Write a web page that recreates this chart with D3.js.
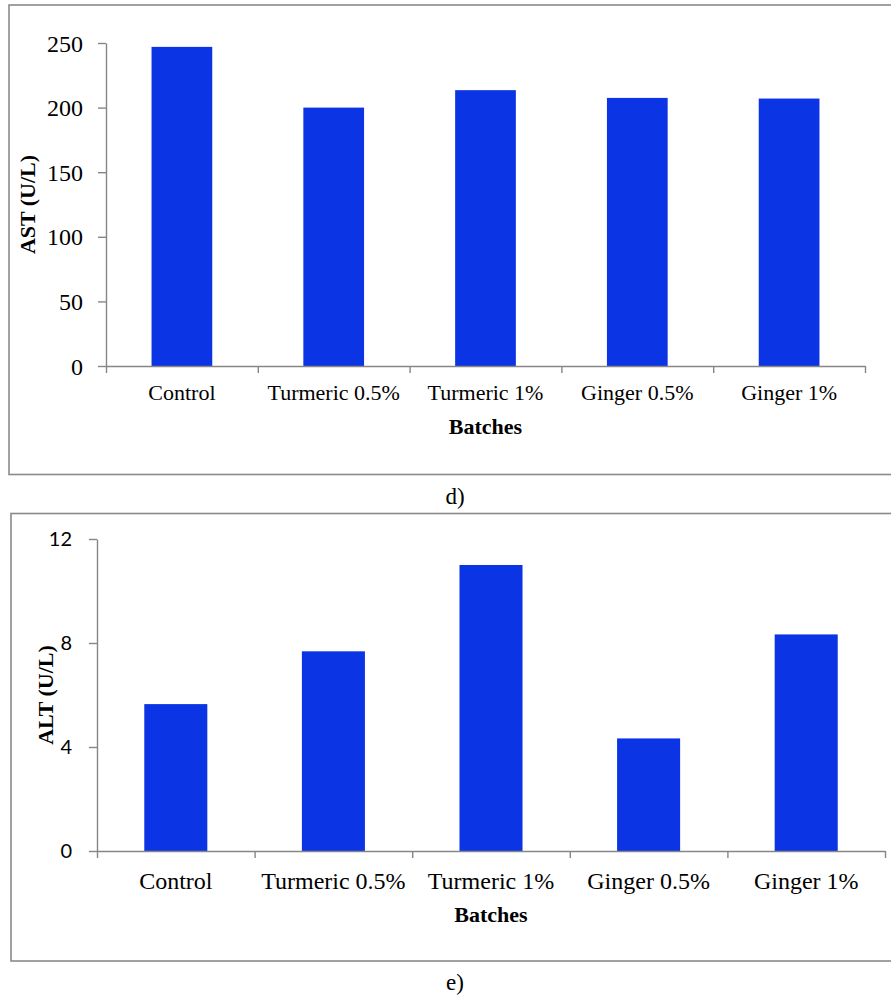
<!DOCTYPE html>
<html>
<head>
<meta charset="utf-8">
<script src="https://cdn.jsdelivr.net/npm/d3@7"></script>
<style>
  html, body { margin: 0; padding: 0; background: #fff; }
  svg { display: block; }
</style>
</head>
<body>
<svg id="chart" width="891" height="995"></svg>
<script>
// Batches shared by both panels
const batches = ["Control", "Turmeric 0.5%", "Turmeric 1%", "Ginger 0.5%", "Ginger 1%"];

// Serum AST (U/L) per batch
const astValues = [247, 200, 213.5, 207.5, 207];
const astTicks = [0, 50, 100, 150, 200, 250];

// Serum ALT (U/L) per batch
const altValues = [5.65, 7.68, 11.0, 4.33, 8.33];
const altTicks = [0, 4, 8, 12];

const barColor = "#0b35e4";
const axisColor = "#868686";
const frameColor = "#8a8a8a";
const serif = "'Liberation Serif', 'Times New Roman', serif";

const svg = d3.select("#chart");

function drawPanel(cfg) {
  const g = svg.append("g");

  // panel frame (runs off the right edge of the page)
  g.append("rect")
    .attr("x", cfg.frame[0]).attr("y", cfg.frame[1])
    .attr("width", 920).attr("height", cfg.frame[2] - cfg.frame[1])
    .attr("fill", "none").attr("stroke", frameColor).attr("stroke-width", 1.6);

  const x = d3.scaleBand()
    .domain(batches)
    .range([cfg.left, cfg.right])
    .paddingInner(0.6)
    .paddingOuter(0.3);

  // category boundaries for the tick marks
  const xEdges = d3.scaleLinear().domain([0, batches.length]).range([cfg.left, cfg.right]);

  const y = d3.scaleLinear().domain(cfg.domain).range([cfg.bottom, cfg.top]);

  // bars
  g.append("g").selectAll("rect")
    .data(cfg.values)
    .join("rect")
    .attr("x", (d, i) => x(batches[i]))
    .attr("y", d => y(d))
    .attr("width", x.bandwidth())
    .attr("height", d => y(0) - y(d))
    .attr("fill", barColor);

  // y axis
  const yAxis = g.append("g")
    .attr("transform", `translate(${cfg.left},0)`)
    .call(d3.axisLeft(y).tickValues(cfg.ticks).tickSize(8).tickSizeOuter(0).tickPadding(cfg.yPad));
  yAxis.select(".domain").attr("stroke", axisColor).attr("stroke-width", 1.4);
  yAxis.selectAll(".tick line").attr("stroke", axisColor).attr("stroke-width", 1.4);
  yAxis.selectAll(".tick text")
    .attr("fill", "#000")
    .style("font-family", cfg.yFont)
    .style("font-size", cfg.yFontSize + "px")
    .attr("dy", "0.34em");

  // x axis line with boundary ticks
  const xAxis = g.append("g")
    .attr("transform", `translate(0,${cfg.bottom})`)
    .call(d3.axisBottom(xEdges).ticks(batches.length).tickSize(7).tickSizeOuter(0).tickFormat(""));
  xAxis.select(".domain").attr("stroke", axisColor).attr("stroke-width", 1.4);
  xAxis.selectAll(".tick line").attr("stroke", axisColor).attr("stroke-width", 1.4);

  // category labels
  const xLabels = g.append("g")
    .attr("transform", `translate(0,${cfg.bottom})`)
    .call(d3.axisBottom(x).tickSize(0).tickPadding(0));
  xLabels.select(".domain").remove();
  xLabels.selectAll(".tick text")
    .attr("fill", "#000")
    .attr("y", cfg.xLabelDy)
    .attr("dy", 0)
    .style("font-family", serif)
    .style("font-size", cfg.xFontSize + "px");

  // x axis title
  g.append("text")
    .attr("x", (cfg.left + cfg.right) / 2)
    .attr("y", cfg.xTitleY)
    .attr("text-anchor", "middle")
    .style("font-family", serif)
    .style("font-weight", "bold")
    .style("font-size", "22px")
    .text("Batches");

  // y axis title
  g.append("text")
    .attr("transform", `translate(${cfg.yTitleX},${(cfg.top + cfg.bottom) / 2}) rotate(-90)`)
    .attr("text-anchor", "middle")
    .style("font-family", serif)
    .style("font-weight", "bold")
    .style("font-size", cfg.yTitleSize + "px")
    .text(cfg.yTitle);

  // panel caption
  g.append("text")
    .attr("x", 455)
    .attr("y", cfg.captionY)
    .attr("text-anchor", "middle")
    .style("font-family", serif)
    .style("font-size", "23px")
    .text(cfg.caption);
}

drawPanel({
  frame: [9, 5, 474.5],
  left: 106, right: 865, top: 43, bottom: 366,
  domain: [0, 250], ticks: astTicks, values: astValues,
  yFont: serif, yFontSize: 24, yPad: 15,
  xFontSize: 22, xLabelDy: 34,
  xTitleY: 434,
  yTitle: "AST (U/L)", yTitleX: 35, yTitleSize: 22,
  caption: "d)", captionY: 504
});

drawPanel({
  frame: [11, 513.5, 961],
  left: 97, right: 885, top: 539, bottom: 851,
  domain: [0, 12], ticks: altTicks, values: altValues,
  yFont: "Lato, 'Open Sans', sans-serif", yFontSize: 20, yPad: 17,
  xFontSize: 24, xLabelDy: 38,
  xTitleY: 922,
  yTitle: "ALT (U/L)", yTitleX: 53, yTitleSize: 22,
  caption: "e)", captionY: 990
});
</script>
</body>
</html>
